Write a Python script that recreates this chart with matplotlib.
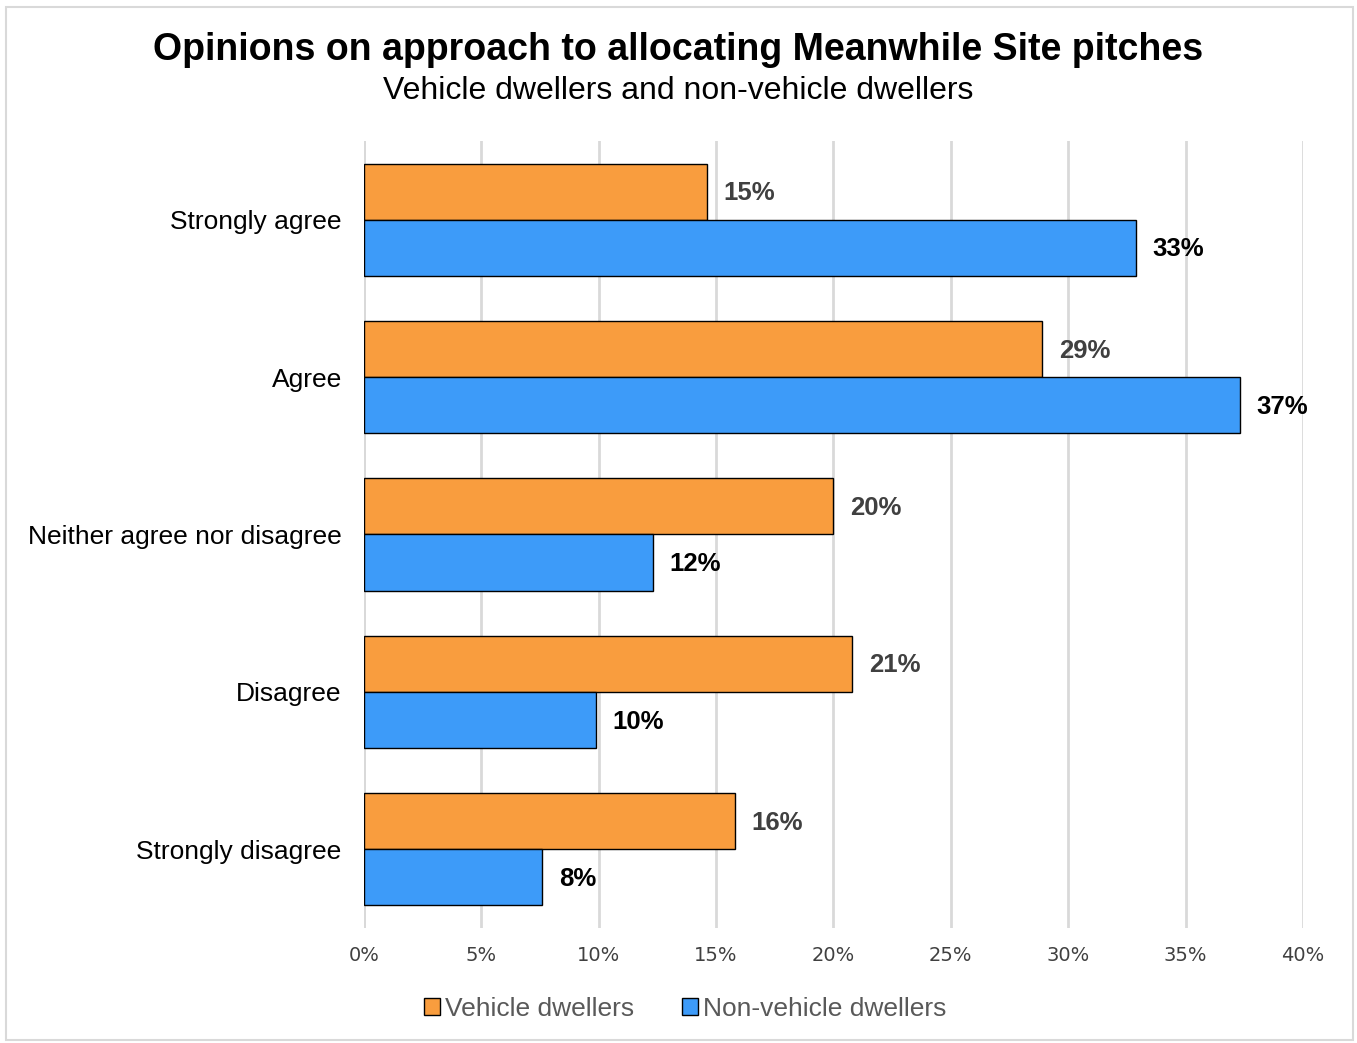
import matplotlib
matplotlib.use("Agg")
import matplotlib.pyplot as plt
from matplotlib.patches import Rectangle

plt.rcParams['font.family'] = ['Liberation Sans', 'DejaVu Sans']

categories = ["Strongly agree", "Agree", "Neither agree nor disagree",
              "Disagree", "Strongly disagree"]
vehicle = [14.6, 28.9, 20.0, 20.8, 15.8]
non_vehicle = [32.9, 37.3, 12.3, 9.9, 7.6]
xticks = [0, 5, 10, 15, 20, 25, 30, 35, 40]

ORANGE = "#F99D3E"
BLUE = "#3D9BF9"

fig = plt.figure(figsize=(13.57, 10.43), dpi=100)
ax = fig.add_axes([0.2682, 0.1103, 0.692, 0.7545])

# light frame round the whole chart
fig.patches.append(Rectangle((0.0045, 0.003), 0.9925, 0.990, transform=fig.transFigure,
                             fill=False, edgecolor="#D9D9D9", linewidth=1.5))

h = 0.357
ys = list(range(len(categories)))
ax.barh([y - h / 2 for y in ys], vehicle, height=h, color=ORANGE,
        edgecolor="black", linewidth=1, label="Vehicle dwellers", zorder=3)
ax.barh([y + h / 2 for y in ys], non_vehicle, height=h, color=BLUE,
        edgecolor="black", linewidth=1, label="Non-vehicle dwellers", zorder=3)

for y, v in zip(ys, vehicle):
    ax.text(v + 0.7, y - h / 2 + 0.01, f"{v:.0f}%", va="center", ha="left",
            fontsize=18.5, fontweight="bold", color="#404040")
for y, v in zip(ys, non_vehicle):
    ax.text(v + 0.7, y + h / 2 + 0.01, f"{v:.0f}%", va="center", ha="left",
            fontsize=18.5, fontweight="bold", color="black")

ax.set_xlim(0, 40)
ax.set_ylim(4.5, -0.5)
ax.set_xticks(xticks)
ax.set_xticklabels([f"{t}%" for t in xticks], fontsize=14, color="#404040",
                   family="DejaVu Sans")
ax.set_yticks(ys)
ax.set_yticklabels(categories, fontsize=19, color="black")
ax.tick_params(axis="both", length=0)
ax.tick_params(axis="x", pad=13)
ax.tick_params(axis="y", pad=16)
ax.grid(axis="x", color="#D9D9D9", linewidth=2, zorder=0)
for s in ax.spines.values():
    s.set_visible(False)
ax.axvline(0, color="#D9D9D9", linewidth=2, zorder=1)

fig.text(0.5, 0.952, "Opinions on approach to allocating Meanwhile Site pitches",
         ha="center", va="center", fontsize=27, fontweight="bold")
fig.text(0.5, 0.913, "Vehicle dwellers and non-vehicle dwellers",
         ha="center", va="center", fontsize=23)

leg = fig.legend(loc="center", bbox_to_anchor=(0.505, 0.033), ncol=2, frameon=False,
                 fontsize=19, handlelength=0.6, handleheight=0.6, handletextpad=0.2,
                 columnspacing=1.8)
for t in leg.get_texts():
    t.set_color("#595959")

fig.savefig("out.png", dpi=100)
